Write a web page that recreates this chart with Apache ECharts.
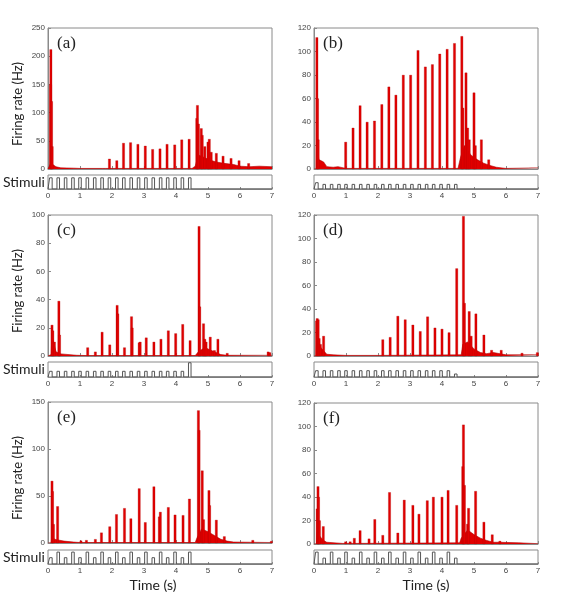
<!DOCTYPE html>
<html>
<head>
<meta charset="utf-8">
<script src="https://cdn.jsdelivr.net/npm/echarts@6/dist/echarts.min.js"></script>
<style>
  html, body { margin: 0; padding: 0; background: #fff; }
  #chart { width: 580px; height: 592px; }
</style>
</head>
<body>
<div id="chart"></div>
<script>
// ===== DATA =====
// firing rate bins [time (s), rate (Hz)]
let ratesA = [[0.08,150],[0.09,212],[0.11,120],[0.13,40],[1.92,18],[2.15,15],[2.36,46],[2.58,47],[2.81,44],[3.04,41],[3.27,35],[3.5,36],[3.72,44],[3.96,43],[4.18,52],[4.41,53],[4.65,90],[4.67,113],[4.7,80],[4.79,72],[4.82,60],[4.9,40],[5.0,48],[5.04,53],[5.1,30],[5.26,28],[5.47,23],[5.72,19],[5.97,15],[6.27,10]];
let ratesB = [[0.09,112],[0.11,60],[0.13,25],[0.99,23],[1.22,35],[1.44,54],[1.66,40],[1.89,41],[2.12,55],[2.34,70],[2.56,63],[2.79,80],[3.02,80],[3.25,101],[3.48,87],[3.7,89],[3.93,98],[4.16,102],[4.39,107],[4.62,113],[4.65,52],[4.75,82],[4.8,35],[4.85,25],[5.0,65],[5.04,20],[5.23,25],[5.46,8]];
let ratesC = [[0.125,22],[0.15,18],[0.2,10],[0.34,39],[0.36,15],[1.24,6],[1.48,3],[1.69,17],[1.93,8],[2.16,36],[2.18,30],[2.39,6],[2.61,28],[2.63,20],[2.85,9.5],[2.88,10],[3.07,13],[3.31,10],[3.53,12],[3.76,18],[3.99,16],[4.21,22.5],[4.44,11],[4.72,92],[4.74,35],[4.86,23],[4.9,12],[4.94,10],[5.07,13.5],[5.2,4],[5.31,12],[5.6,2],[6.88,3],[6.93,2.5]];
let ratesD = [[0.08,30],[0.1,32],[0.13,31],[0.16,15],[0.2,10],[0.3,17],[2.15,14],[2.38,16],[2.62,34],[2.85,31],[3.09,26.5],[3.32,21],[3.55,33.5],[3.78,24],[4.0,23],[4.22,20],[4.46,74.5],[4.67,119],[4.7,45],[4.85,38],[4.91,17],[5.06,36],[5.31,18],[5.55,5],[5.85,5],[6.5,2.5],[6.98,3]];
let ratesE = [[0.125,66],[0.14,55],[0.17,20],[0.3,39],[1.03,2.5],[1.2,3],[1.48,4],[1.67,11],[1.93,17.5],[2.14,30.5],[2.39,37],[2.59,26],[2.85,58],[3.04,22],[3.31,60],[3.48,28],[3.51,33],[3.76,38],[3.97,30],[4.22,29.5],[4.42,47],[4.7,141],[4.72,120],[4.82,77],[4.86,25],[5.03,56],[5.05,40],[5.26,24.5],[5.51,7],[6.4,3],[6.98,2]];
let ratesF = [[0.1,30],[0.125,49],[0.14,40],[0.17,20],[0.29,15],[0.99,2],[1.13,2],[1.26,5],[1.44,11.5],[1.72,4.5],[1.9,21],[2.15,7.5],[2.36,44],[2.62,9.5],[2.82,37.5],[3.09,33],[3.28,25.5],[3.54,37],[3.73,40],[4.0,40],[4.19,45.7],[4.46,33],[4.65,66],[4.67,101.5],[4.7,50],[4.8,17],[4.83,30.5],[5.05,45],[5.31,18.7],[5.57,8],[5.81,2.5]];

// low background activity [time, rate]
let baseA = [[0,0],[0.05,0],[0.08,10],[0.15,8],[0.25,4],[0.4,2],[0.8,1.5],[1.0,1],[1.7,1],[1.75,3],[1.8,1],[2,1],[4.5,1],[4.6,5],[4.7,25],[4.9,20],[5.1,15],[5.3,12],[5.5,10],[5.8,8],[6.0,5],[6.3,4],[6.6,5],[7,4]];
let baseB = [[0,0],[0.07,0],[0.08,25],[0.15,8],[0.3,6],[0.4,2],[0.6,1.5],[0.75,2],[0.8,1],[1,0.5],[4.5,0.5],[4.58,10],[4.7,20],[4.9,12],[5.1,8],[5.3,5],[5.5,3],[5.7,1.5],[6,0.5],[7,1]];
let baseC = [[0,0],[0.1,1],[0.12,15],[0.25,3],[0.4,1.5],[0.9,0.5],[1.2,0.3],[4.6,0.3],[4.7,3],[4.9,6],[5.2,3],[5.4,1],[5.6,0.5],[7,0.5]];
let baseD = [[0,0],[0.07,0],[0.08,12],[0.25,6],[0.4,1.5],[0.6,1],[1,0.5],[2,0.5],[4.6,1],[4.65,10],[4.8,12],[5.0,6],[5.2,3],[5.4,2],[5.6,3],[6,1],[7,1]];
let baseE = [[0,0],[0.1,0],[0.12,8],[0.2,4],[0.35,3],[0.5,2],[0.8,1],[1,0.5],[4.6,0.5],[4.65,5],[4.8,15],[5.0,12],[5.2,8],[5.4,4],[5.6,2],[5.8,1],[7,0.5]];
let baseF = [[0,0],[0.08,0],[0.1,10],[0.2,6],[0.3,3],[0.4,1.5],[0.9,0.5],[1.2,0.5],[4.55,1],[4.6,5],[4.8,12],[5.0,8],[5.2,5],[5.4,3],[5.6,1.5],[5.8,1.5],[6.4,1],[7,0.3]];

// stimulus pulse onsets (s) and relative amplitudes per panel
let stimOnsets = [0.05,0.28,0.51,0.74,0.96,1.19,1.42,1.65,1.88,2.11,2.33,2.56,2.79,3.02,3.25,3.48,3.7,3.93,4.16,4.39];
let stimAmpA = [0.8,0.8,0.8,0.8,0.8,0.8,0.8,0.8,0.8,0.8,0.8,0.8,0.8,0.8,0.8,0.8,0.8,0.8,0.8,0.8];
let stimAmpB = [0.45,0.33,0.33,0.33,0.33,0.33,0.33,0.33,0.33,0.33,0.33,0.33,0.33,0.33,0.33,0.33,0.33,0.33,0.33,0.33];
let stimAmpC = [0.38,0.38,0.38,0.38,0.38,0.38,0.38,0.38,0.38,0.38,0.38,0.38,0.38,0.38,0.38,0.38,0.38,0.38,0.38,0.95];
let stimAmpD = [0.42,0.42,0.42,0.42,0.42,0.42,0.42,0.42,0.42,0.42,0.42,0.42,0.42,0.42,0.42,0.42,0.42,0.42,0.42,0.2];
let stimAmpE = [0.45,0.85,0.45,0.85,0.45,0.85,0.45,0.85,0.45,0.85,0.45,0.85,0.45,0.85,0.45,0.85,0.45,0.85,0.45,0.85];
let stimAmpF = [0.85,0.42,0.85,0.42,0.85,0.42,0.85,0.42,0.85,0.42,0.85,0.42,0.85,0.42,0.85,0.42,0.85,0.42,0.85,0.42];
let pulseWidth = 0.08;

let timeTicks = [0,1,2,3,4,5,6,7];

// panels: letter, data, y scale, layout
let panels = [
    { tag: '(a)', rates: ratesA, base: baseA, amp: stimAmpA, yMax: 250, yStep: 50, left: 48,  top: 28,  stimTop: 175, stimH: 14, ylabel: true },
    { tag: '(b)', rates: ratesB, base: baseB, amp: stimAmpB, yMax: 120, yStep: 20, left: 314, top: 28,  stimTop: 175, stimH: 14, ylabel: false },
    { tag: '(c)', rates: ratesC, base: baseC, amp: stimAmpC, yMax: 100, yStep: 20, left: 48,  top: 215, stimTop: 362, stimH: 15, ylabel: true },
    { tag: '(d)', rates: ratesD, base: baseD, amp: stimAmpD, yMax: 120, yStep: 20, left: 314, top: 215, stimTop: 362, stimH: 15, ylabel: false },
    { tag: '(e)', rates: ratesE, base: baseE, amp: stimAmpE, yMax: 150, yStep: 50, left: 48,  top: 402, stimTop: 550, stimH: 14, ylabel: true },
    { tag: '(f)', rates: ratesF, base: baseF, amp: stimAmpF, yMax: 120, yStep: 20, left: 314, top: 403, stimTop: 550, stimH: 14, ylabel: false }
];

const PLOT_W = 224;
const PLOT_H = 141;
const RED = '#e10000';
const AXIS_COLOR = '#8a8a8a';
const LABEL_COLOR = '#444';

// stimulus waveform (rectangular pulses) as a polyline
function stimLine(amp) {
    let pts = [[0, 0]];
    stimOnsets.forEach(function (t, i) {
        pts.push([t, 0], [t, amp[i]], [t + pulseWidth, amp[i]], [t + pulseWidth, 0]);
    });
    pts.push([7, 0]);
    return pts;
}

let grid = [], xAxis = [], yAxis = [], series = [], graphic = [];

panels.forEach(function (p, i) {
    let g = i * 2;

    // ===== main plot =====
    grid.push({ left: p.left, top: p.top, width: PLOT_W, height: PLOT_H, show: true, borderColor: AXIS_COLOR, borderWidth: 1, containLabel: false });
    xAxis.push({
        type: 'value', gridIndex: g, min: 0, max: 7, interval: 1,
        axisLine: { lineStyle: { color: AXIS_COLOR } },
        axisTick: { inside: true, length: 3, lineStyle: { color: AXIS_COLOR } },
        axisLabel: { show: false },
        splitLine: { show: false }
    });
    yAxis.push({
        type: 'value', gridIndex: g, min: 0, max: p.yMax, interval: p.yStep,
        axisLine: { show: true, lineStyle: { color: AXIS_COLOR } },
        axisTick: { show: true, inside: true, length: 3, lineStyle: { color: AXIS_COLOR } },
        axisLabel: { fontSize: 8, color: LABEL_COLOR, margin: 3, fontFamily: 'Liberation Sans' },
        splitLine: { show: false }
    });
    series.push({
        type: 'line', xAxisIndex: g, yAxisIndex: g, data: p.base,
        showSymbol: false, silent: true,
        lineStyle: { width: 0.6, color: '#b00000' },
        areaStyle: { color: RED, opacity: 1 },
        z: 2
    });
    series.push({
        type: 'bar', xAxisIndex: g, yAxisIndex: g, data: p.rates,
        barWidth: 2.5, silent: true,
        itemStyle: { color: RED, borderColor: '#b00000', borderWidth: 0.3 },
        z: 3
    });

    // ===== stimuli strip =====
    grid.push({ left: p.left, top: p.stimTop, width: PLOT_W, height: p.stimH, show: true, borderColor: AXIS_COLOR, borderWidth: 1 });
    xAxis.push({
        type: 'value', gridIndex: g + 1, min: 0, max: 7, interval: 1,
        axisLine: { lineStyle: { color: AXIS_COLOR } },
        axisTick: { inside: true, length: 2, lineStyle: { color: AXIS_COLOR } },
        axisLabel: {
            fontSize: 8, color: LABEL_COLOR, margin: 3, fontFamily: 'Liberation Sans',
            formatter: function (v) { return timeTicks.indexOf(v) >= 0 ? String(v) : ''; }
        },
        splitLine: { show: false }
    });
    yAxis.push({ type: 'value', gridIndex: g + 1, min: 0, max: 1, show: false, splitLine: { show: false } });
    series.push({
        type: 'line', xAxisIndex: g + 1, yAxisIndex: g + 1, data: stimLine(p.amp),
        showSymbol: false, silent: true,
        lineStyle: { width: 1, color: '#555' }
    });

    // ===== texts =====
    graphic.push({
        type: 'text', left: p.left + 9, top: p.top + 7,
        style: { text: p.tag, font: '17px "Liberation Serif"', fill: '#222' }
    });
    if (p.ylabel) {
        graphic.push({
            type: 'text', x: 18, y: p.top + 76, rotation: Math.PI / 2,
            style: { text: 'Firing rate (Hz)', font: '13px Lato', fill: '#222', align: 'center', verticalAlign: 'middle' }
        });
        graphic.push({
            type: 'text', x: 3, y: p.stimTop + p.stimH / 2,
            style: { text: 'Stimuli', font: '14px Lato', fill: '#222', align: 'left', verticalAlign: 'middle' }
        });
    }
});

graphic.push({ type: 'text', x: 153, y: 585, style: { text: 'Time (s)', font: '14px Lato', fill: '#222', align: 'center', verticalAlign: 'middle' } });
graphic.push({ type: 'text', x: 426, y: 585, style: { text: 'Time (s)', font: '14px Lato', fill: '#222', align: 'center', verticalAlign: 'middle' } });

let chart = echarts.init(document.getElementById('chart'), null, { renderer: 'canvas' });
chart.setOption({
    animation: false,
    backgroundColor: '#fff',
    grid: grid,
    xAxis: xAxis,
    yAxis: yAxis,
    series: series,
    graphic: graphic
});
</script>
</body>
</html>
